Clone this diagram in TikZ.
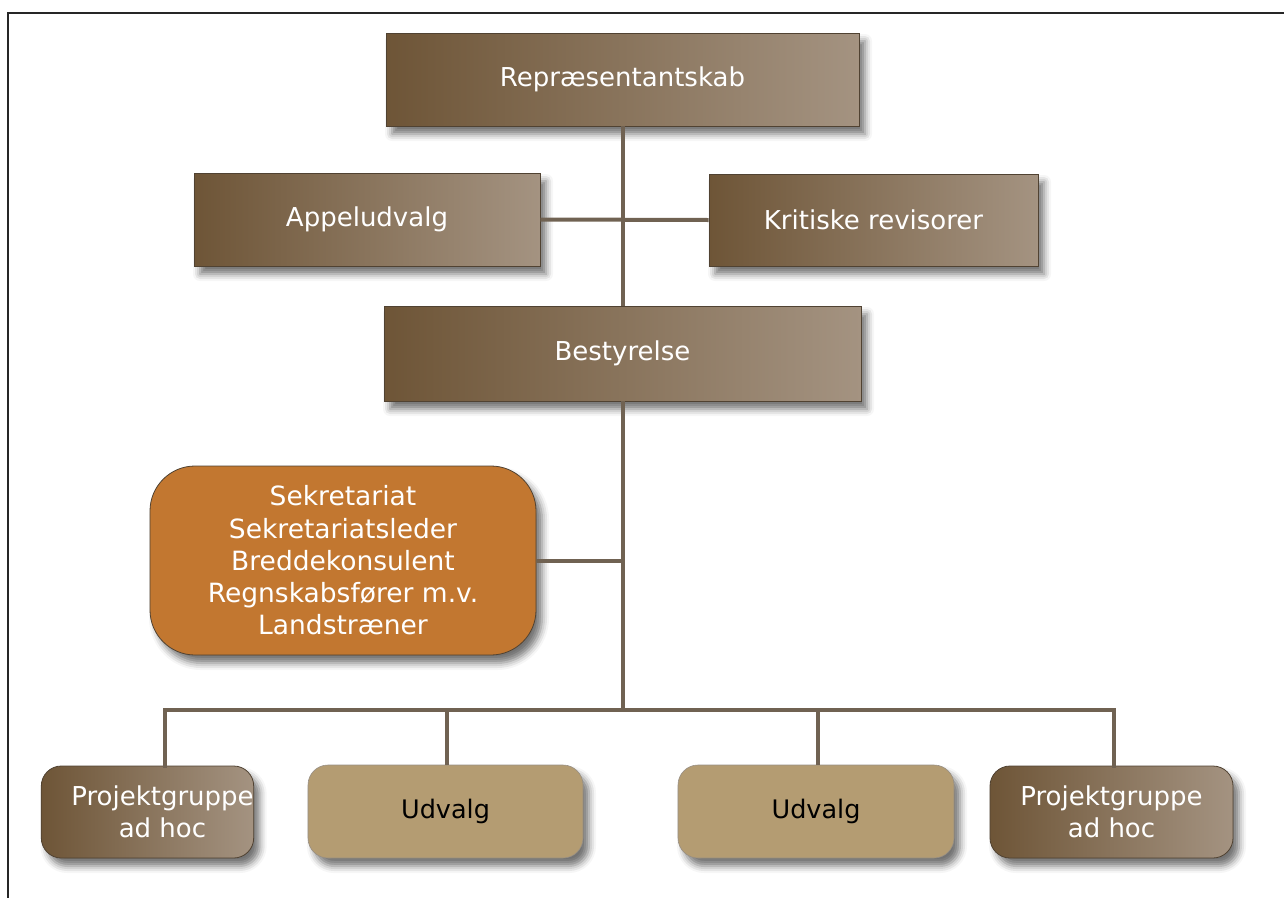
\documentclass[tikz,border=0pt]{standalone}
\usepackage{fontspec}
\setmainfont{DejaVu Sans}
\usetikzlibrary{shadows.blur,calc}
\definecolor{brownL}{RGB}{110,85,55}
\definecolor{brownR}{RGB}{164,147,129}
\definecolor{boxedge}{RGB}{80,66,50}
\definecolor{linec}{RGB}{112,98,82}
\definecolor{udv}{RGB}{180,156,114}
\definecolor{orangec}{RGB}{194,119,48}
\tikzset{
  x=1pt, y=-1pt,
  shad/.style={blur shadow={shadow xshift=6pt, shadow yshift=-8pt, shadow blur radius=7pt, shadow opacity=55}},
  brownbox/.style={shad, draw=boxedge, line width=0.8pt, left color=brownL, right color=brownR,
     text=white, font=\fontsize{26}{32}\selectfont, align=center, inner sep=0pt},
  udvbox/.style={shad, draw=boxedge!60, line width=0.6pt, fill=udv, text=black,
     font=\fontsize{25.5}{32}\selectfont, align=center, inner sep=0pt, rounded corners=20pt},
  sekbox/.style={shad, draw=boxedge, line width=0.8pt, fill=orangec, text=white,
     font=\fontsize{26.5}{32.3}\selectfont, align=center, inner sep=0pt, rounded corners=45pt},
  conn/.style={draw=linec, line width=4pt},
}
\begin{document}
\begin{tikzpicture}
\useasboundingbox (0,0) rectangle (1284,897);
% frame
\draw[line width=2.2pt, black!85] (8,905) -- (8,13) -- (1295,13);

\coordinate (bus) at (0,710);

\node[brownbox, minimum width=473pt, minimum height=93pt] (rep) at (622.5,79.5) {Repræsentantskab};
\node[brownbox, minimum width=346pt, minimum height=93pt] (app) at (367,219.5) {Appeludvalg};
\node[brownbox, minimum width=329pt, minimum height=92pt] (krit) at (873.5,220) {Kritiske revisorer};
\node[brownbox, minimum width=477pt, minimum height=95pt] (best) at (622.5,353.5) {Bestyrelse};
\node[sekbox, minimum width=386pt, minimum height=189pt] (sek) at (343,560.5)
  {Sekretariat\\Sekretariatsleder\\Breddekonsulent\\Regnskabsfører m.v.\\Landstræner};
\node[brownbox, rounded corners=20pt, minimum width=211pt, minimum height=92pt] (p1) at (147.5,812)
  {\hspace*{30pt}Projektgruppe\\\hspace*{30pt}ad hoc};
\node[udvbox, minimum width=275pt, minimum height=93pt] (u1) at (445.5,811.5) {Udvalg};
\node[udvbox, minimum width=276pt, minimum height=93pt] (u2) at (816,811.5) {Udvalg};
\node[brownbox, rounded corners=20pt, minimum width=243pt, minimum height=92pt] (p2) at (1111.5,812) {Projektgruppe\\ad hoc};

\draw[conn] (rep.south) -- (best.north);
\draw[conn] (app.east) -- (krit.west);
\draw[conn] (best.south) -- (best.south |- bus);
\draw[conn] (sek.east) -- (sek.east -| best.south);
\draw[conn, line cap=rect] ([xshift=17pt]p1.north) -- ([xshift=17pt]p1.north |- bus) -- ([xshift=2.5pt]p2.north |- bus) -- ([xshift=2.5pt]p2.north);
\draw[conn] ([xshift=1.5pt]u1.north) -- ([xshift=1.5pt]u1.north |- bus);
\draw[conn] ([xshift=2pt]u2.north) -- ([xshift=2pt]u2.north |- bus);
\end{tikzpicture}
\end{document}
